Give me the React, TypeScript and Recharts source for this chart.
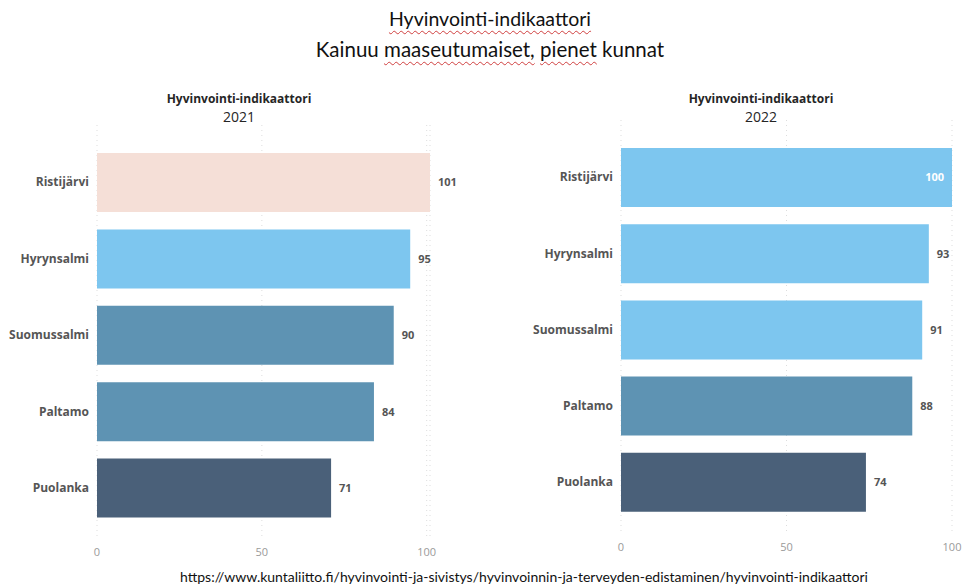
import React from 'react';
import { BarChart, Bar, XAxis, YAxis, CartesianGrid, Cell, LabelList } from 'recharts';

const kunnat = ['Ristijärvi', 'Hyrynsalmi', 'Suomussalmi', 'Paltamo', 'Puolanka'];
const arvot2021 = [101, 95, 90, 84, 71];
const arvot2022 = [100, 93, 91, 88, 74];
const xTicks = [0, 50, 100];

const PEACH = '#F5DFD7';
const LIGHT = '#7DC6EF';
const MID = '#5E93B3';
const DARK = '#4A6079';

const colors2021 = [PEACH, LIGHT, MID, MID, DARK];
const colors2022 = [LIGHT, LIGHT, LIGHT, MID, DARK];

const FONT = '"Open Sans", "Noto Sans", sans-serif';

interface PanelProps {
  year: string;
  values: number[];
  colors: string[];
  left: number;
  width: number;
  yAxisWidth: number;
  marginRight: number;
  marginTop: number;
  marginBottom: number;
  padTop: number;
  padBottom: number;
  xMax: number;
  insideLabels: string[];
  titleX: number;
}

function Panel(p: PanelProps) {
  const data = kunnat.map((k, i) => ({ kunta: k, arvo: p.values[i] }));

  const renderLabel = (props: any) => {
    const { x, y, width, height, value, index } = props;
    const inside = p.insideLabels.includes(kunnat[index]);
    return (
      <text
        x={inside ? x + width - 8 : x + width + 8}
        y={y + height / 2}
        dy="0.35em"
        textAnchor={inside ? 'end' : 'start'}
        fontFamily={FONT}
        fontSize={11}
        fontWeight={700}
        fill={inside ? '#ffffff' : '#555555'}
      >
        {value}
      </text>
    );
  };

  const titleBase: React.CSSProperties = {
    position: 'absolute',
    left: p.titleX - 120,
    width: 240,
    textAlign: 'center',
    fontFamily: FONT,
    color: '#252525',
  };

  return (
    <div style={{ position: 'absolute', left: p.left, top: 0, width: p.width, height: 588 }}>
      <div style={{ ...titleBase, top: 90, height: 17, lineHeight: '17px', fontSize: 12, fontWeight: 700 }}>
        Hyvinvointi-indikaattori
      </div>
      <div style={{ ...titleBase, top: 107, height: 19, lineHeight: '19px', fontSize: 14 }}>{p.year}</div>
      <BarChart
        width={p.width}
        height={588}
        data={data}
        layout="vertical"
        margin={{ top: p.marginTop, right: p.marginRight, left: 0, bottom: p.marginBottom }}
        barSize={59}
      >
        <CartesianGrid horizontal={false} stroke="#dddddd" strokeDasharray="1 4" />
        <XAxis
          type="number"
          domain={[0, p.xMax]}
          ticks={xTicks}
          axisLine={false}
          tickLine={false}
          height={30}
          tick={{ fontSize: 11, fill: '#9a9a9a', fontFamily: FONT }}
        />
        <YAxis
          type="category"
          dataKey="kunta"
          width={p.yAxisWidth}
          axisLine={false}
          tickLine={false}
          padding={{ top: p.padTop, bottom: p.padBottom }}
          tick={{ fontSize: 12, fill: '#555555', fontWeight: 700, fontFamily: FONT }}
        />
        <Bar dataKey="arvo" isAnimationActive={false}>
          {data.map((d, i) => (
            <Cell key={d.kunta} fill={p.colors[i]} />
          ))}
          <LabelList dataKey="arvo" content={renderLabel} />
        </Bar>
      </BarChart>
    </div>
  );
}

export default function App() {
  const wavy: React.CSSProperties = {
    textDecoration: 'underline wavy #d04040',
    textDecorationThickness: '1px',
    textUnderlineOffset: '4px',
  };
  return (
    <div
      style={{
        position: 'absolute',
        left: 0,
        top: 0,
        width: 963,
        height: 588,
        background: '#ffffff',
        overflow: 'hidden',
      }}
    >
      <div
        style={{
          position: 'absolute',
          left: 0,
          width: 980,
          top: 3,
          textAlign: 'center',
          fontFamily: 'Lato, "Open Sans", sans-serif',
          fontSize: 19.5,
          color: '#111111',
          lineHeight: '31px',
        }}
      >
        <div>
          <span style={wavy}>Hyvinvointi-indikaattori</span>
        </div>
        <div style={{ fontSize: 20.5 }}>
          Kainuu <span style={wavy}>maaseutumaiset,</span> <span style={wavy}>pienet</span> kunnat
        </div>
      </div>
      <Panel
        year="2021"
        values={arvot2021}
        colors={colors2021}
        left={0}
        width={480}
        yAxisWidth={97}
        marginRight={50}
        marginTop={125}
        marginBottom={18}
        padTop={19}
        padBottom={14}
        xMax={101}
        insideLabels={[]}
        titleX={239}
      />
      <Panel
        year="2022"
        values={arvot2022}
        colors={colors2022}
        left={480}
        width={483}
        yAxisWidth={141}
        marginRight={11}
        marginTop={120}
        marginBottom={23}
        padTop={19}
        padBottom={15}
        xMax={100}
        insideLabels={['Ristijärvi']}
        titleX={281}
      />
      <div
        style={{
          position: 'absolute',
          left: 0,
          width: 1048,
          top: 568,
          textAlign: 'center',
          fontFamily: 'Lato, "Open Sans", sans-serif',
          fontSize: 14,
          color: '#111111',
          whiteSpace: 'nowrap',
        }}
      >
        https://www.kuntaliitto.fi/hyvinvointi-ja-sivistys/hyvinvoinnin-ja-terveyden-edistaminen/hyvinvointi-indikaattori
      </div>
    </div>
  );
}
